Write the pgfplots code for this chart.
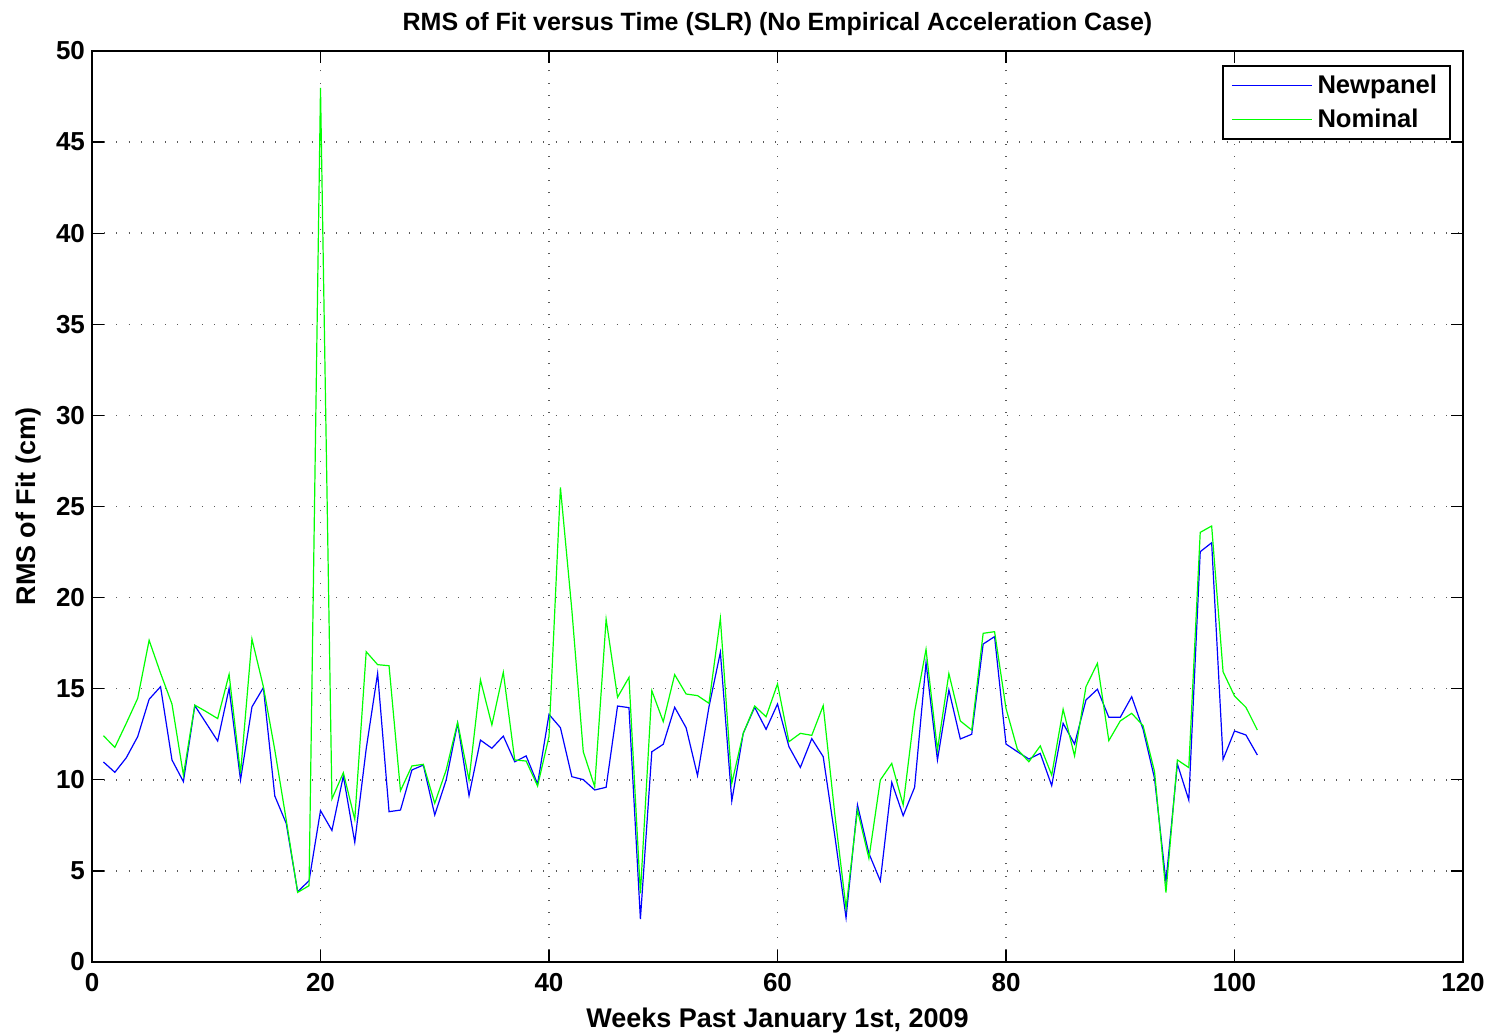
\documentclass[border=0pt]{standalone}
\usepackage{fontspec}
\setmainfont{Liberation Sans}
\usepackage{pgfplots}
\usepackage{pgfplotstable}
\pgfplotsset{compat=1.18}
\definecolor{mblue}{RGB}{0,0,255}
\definecolor{mgreen}{RGB}{0,255,0}
\pgfplotstableread{
x y
1 10.98
2 10.41
3 11.21
4 12.37
5 14.42
6 15.11
7 11.09
8 9.90
9 14.07
10 13.10
11 12.13
12 15.02
13 9.99
14 14.00
15 15.06
16 9.11
17 7.61
18 3.86
19 4.46
20 8.31
21 7.22
22 10.21
23 6.57
24 11.70
25 15.84
26 8.25
27 8.34
28 10.54
29 10.81
30 8.07
31 9.99
32 13.10
33 9.13
34 12.18
35 11.73
36 12.40
37 10.99
38 11.31
39 9.77
40 13.59
41 12.86
42 10.17
43 10.01
44 9.44
45 9.59
46 14.05
47 13.96
48 2.36
49 11.54
50 11.95
51 13.98
52 12.86
53 10.23
54 14.00
55 17.00
56 8.84
57 12.55
58 13.98
59 12.77
60 14.16
61 11.82
62 10.68
63 12.26
64 11.27
65 7.00
66 2.43
67 8.62
68 5.96
69 4.45
70 9.86
71 8.03
72 9.59
73 16.43
74 11.09
75 14.93
76 12.24
77 12.50
78 17.45
79 17.86
80 11.96
81 11.54
82 11.14
83 11.45
84 9.68
85 13.10
86 11.96
87 14.38
88 14.97
89 13.43
90 13.43
91 14.56
92 12.77
93 10.08
94 4.41
95 10.87
96 8.89
97 22.52
98 23.01
99 11.12
100 12.68
101 12.46
102 11.36
}\newpanel
\pgfplotstableread{
x y
1 12.42
2 11.78
3 13.10
4 14.47
5 17.66
6 15.85
7 14.16
8 10.26
9 14.10
10 13.74
11 13.36
12 15.79
13 10.35
14 17.73
15 15.11
16 11.64
17 7.80
18 3.82
19 4.19
20 47.97
21 8.95
22 10.39
23 7.83
24 17.03
25 16.32
26 16.26
27 9.40
28 10.76
29 10.85
30 8.71
31 10.54
32 13.15
33 9.99
34 15.48
35 13.01
36 15.90
37 11.09
38 11.03
39 9.66
40 12.37
41 26.05
42 19.32
43 11.54
44 9.62
45 18.81
46 14.53
47 15.62
48 3.77
49 14.89
50 13.19
51 15.77
52 14.71
53 14.62
54 14.20
55 18.86
56 9.81
57 12.55
58 14.05
59 13.46
60 15.26
61 12.09
62 12.55
63 12.44
64 14.07
65 8.20
66 2.95
67 8.34
68 5.69
69 9.99
70 10.90
71 8.62
72 13.74
73 17.16
74 11.64
75 15.83
76 13.23
77 12.73
78 18.04
79 18.13
80 13.92
81 11.67
82 10.99
83 11.86
84 10.26
85 13.87
86 11.31
87 15.11
88 16.39
89 12.15
90 13.23
91 13.65
92 12.97
93 10.45
94 3.81
95 11.09
96 10.67
97 23.58
98 23.93
99 15.93
100 14.60
101 13.98
102 12.73
}\nominal
\begin{document}
\begin{tikzpicture}
\begin{axis}[
  at={(0,0)}, anchor=south west,
  scale only axis, width=685.5pt, height=455.5pt,
  xmin=0, xmax=120, ymin=0, ymax=50,
  xtick={0,20,...,120}, ytick={0,5,...,50},
  tick align=inside, major tick length=6pt,
  xtick pos=both, ytick pos=both,
  grid=major,
  major grid style={black!65, line width=0.7pt, dash pattern=on 0.5pt off 5.6pt},
  axis line style={black, line width=0.6pt},
  tick style={black, line width=0.6pt},
  /pgf/number format/assume math mode=true,
  ticklabel style={font=\fontsize{13}{15}\selectfont\bfseries},
  xticklabel style={yshift=-2pt},
  title={RMS of Fit versus Time (SLR) (No Empirical Acceleration Case)},
  title style={at={(axis description cs:0.5,1)}, anchor=base, yshift=4.2pt, font=\fontsize{12.5}{14}\selectfont\bfseries},
  xlabel={Weeks Past January 1st, 2009},
  xlabel style={at={(axis description cs:0.5,0)}, anchor=base, yshift=-32.5pt, font=\fontsize{13.5}{15}\selectfont\bfseries},
  ylabel={RMS of Fit (cm)},
  ylabel style={at={(axis description cs:0,0.5)}, anchor=base, yshift=28pt, font=\fontsize{13.5}{15}\selectfont\bfseries},
  legend style={at={(1,1)}, xshift=-6pt, yshift=-7pt, anchor=north east,
    draw=black, line width=1pt, fill=white,
    font=\fontsize{12.8}{15}\selectfont\bfseries, inner xsep=4pt, inner ysep=2.5pt,
    nodes={inner xsep=2.5pt},
    row sep=2pt},
  legend cell align=left,
  legend image code/.code={\draw[#1] (0pt,0pt) -- (40pt,0pt);},
]
\addplot[mblue, line width=0.6pt] table[x=x,y=y] {\newpanel};
\addlegendentry{Newpanel}
\addplot[mgreen, line width=0.6pt] table[x=x,y=y] {\nominal};
\addlegendentry{Nominal}
\end{axis}
\pgfresetboundingbox
\path[use as bounding box] (-46pt,-36pt) rectangle (701.5pt,481pt);
\end{tikzpicture}
\end{document}
